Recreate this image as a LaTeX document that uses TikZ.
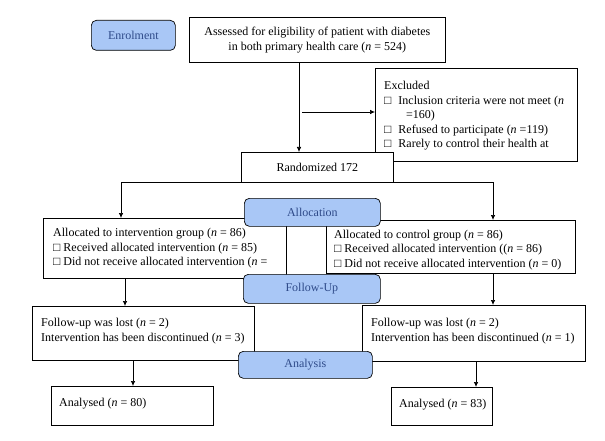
\documentclass[tikz,border=0pt]{standalone}
\usepackage{fontspec}
\setmainfont{Liberation Serif}
\usepackage{xcolor}
\usetikzlibrary{arrows.meta}

\definecolor{stagefill}{HTML}{A9C7F6}
\definecolor{stagetext}{HTML}{2F4B8A}

\tikzset{
  box/.style={draw, fill=white, line width=0.7pt, anchor=north west, inner sep=0pt,
    font=\fontsize{12}{14.5}\selectfont},
  txt/.style={anchor=west, align=left, inner sep=0pt, font=\fontsize{12}{14.5}\selectfont},
  stage/.style={draw, fill=stagefill, text=stagetext, rounded corners=5pt, line width=0.7pt,
    anchor=north west, inner sep=0pt, font=\fontsize{12}{14.5}\selectfont},
  arr/.style={-{Latex[length=5pt,width=4.5pt]}, line width=0.7pt}
}

\begin{document}
\begin{tikzpicture}[x=1pt,y=-1pt]
    \useasboundingbox (0,0) rectangle (605,441);
    % Enrolment
    \node[stage, minimum width=84pt, minimum height=30pt] (enrol) at (91,20) {Enrolment};
    \node[box, minimum width=256pt, minimum height=45pt, align=center] (assess) at (189,17)
      {Assessed for eligibility of patient with diabetes\\in both primary health care (\textit{n} = 524)};
    \node[box, minimum width=202pt, minimum height=93pt] (excl) at (375,68) {};
    \node[txt] (excltext) at ([xshift=9pt,yshift=-1pt]excl.west)
      {Excluded\\
       □\hspace{7pt}Inclusion criteria were not meet (\textit{n}\\
       \hspace*{22pt}=160)\\
       □\hspace{7pt}Refused to participate (\textit{n} =119)\\
       □\hspace{7pt}Rarely to control their health at};
    \node[box, minimum width=152pt, minimum height=30pt] (rand) at (241,152) {Randomized 172};
    \coordinate (exfrom) at (302,112);
    \draw[arr] ([xshift=110pt]assess.south west) -- ([xshift=58pt]rand.north west);
    \draw[arr] (exfrom) -- (exfrom -| excl.west);
    % Allocation
    \node[box, minimum width=243pt, minimum height=60pt] (lalloc) at (43,218) {};
    \node[txt] (lalloctext) at ([xshift=10pt]lalloc.west)
      {Allocated to intervention group (\textit{n} = 86)\\
       □ Received allocated intervention (\textit{n} = 85)\\
       □ Did not receive allocated intervention (\textit{n} =};
    \node[box, minimum width=249pt, minimum height=53pt] (ralloc) at (326,220) {};
    \node[txt] (ralloctext) at ([xshift=8pt,yshift=-3pt]ralloc.west)
      {Allocated to control group (\textit{n} = 86)\\
       □ Received allocated intervention ((\textit{n} = 86)\\
       □ Did not receive allocated intervention (\textit{n} = 0)};
    \draw[arr] (rand.south west) -| ([xshift=78pt]lalloc.north west);
    \draw[arr] (rand.south east) -| ([xshift=167pt]ralloc.north west);
    \node[stage, minimum width=136pt, minimum height=28pt] (alloc) at (244,198) {Allocation};
    % Follow-Up
    \node[box, minimum width=222pt, minimum height=54pt] (lfu) at (32,306) {};
    \node[txt] (lfutext) at ([xshift=9pt,yshift=2pt]lfu.west)
      {Follow-up was lost (\textit{n} = 2)\\Intervention has been discontinued (\textit{n} = 3)};
    \node[box, minimum width=223pt, minimum height=56pt] (rfu) at (362,305) {};
    \node[txt] (rfutext) at ([xshift=9pt,yshift=2pt]rfu.west)
      {Follow-up was lost (\textit{n} = 2)\\Intervention has been discontinued (\textit{n} = 1)};
    \draw[arr] ([xshift=82pt]lalloc.south west) -- ([xshift=93pt]lfu.north west);
    \draw[arr] ([xshift=167pt]ralloc.south west) -- ([xshift=131pt]rfu.north west);
    \node[stage, minimum width=137pt, minimum height=29pt] (follow) at (243,274) {Follow-Up};
    % Analysis
    \node[box, minimum width=162pt, minimum height=39pt] (lana) at (51,386) {};
    \node[txt] (lanatext) at ([xshift=8pt,yshift=2pt]lana.west) {Analysed (\textit{n} = 80)};
    \node[box, minimum width=101pt, minimum height=38pt] (rana) at (391,387) {};
    \node[txt] (ranatext) at ([xshift=8pt,yshift=2pt]rana.west) {Analysed (\textit{n} = 83)};
    \draw[arr] ([xshift=101pt]lfu.south west) -- ([xshift=82pt]lana.north west);
    \draw[arr] ([xshift=114pt]rfu.south west) -- ([xshift=85pt]rana.north west);
    \node[stage, minimum width=134pt, minimum height=27pt] (analysis) at (238,351) {Analysis};
\end{tikzpicture}
\end{document}
